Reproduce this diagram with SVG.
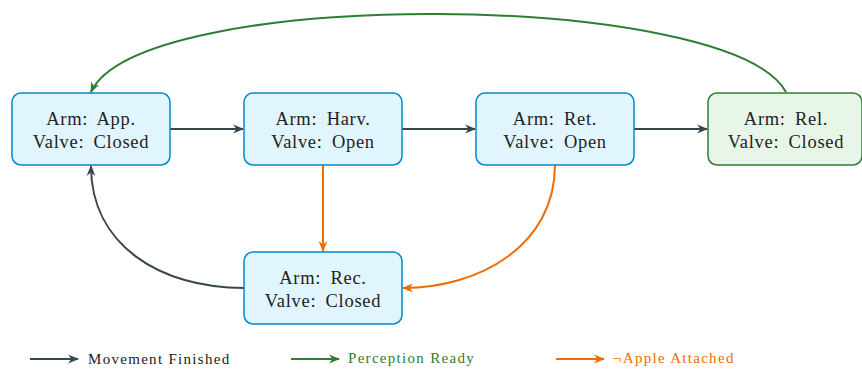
<svg xmlns="http://www.w3.org/2000/svg" width="862" height="373" viewBox="0 0 862 373">
<defs>
<marker id="ad" viewBox="0 0 10 10" refX="9" refY="5" markerWidth="11" markerHeight="11" markerUnits="userSpaceOnUse" orient="auto"><path d="M0,1 L10,5 L0,9 L3,5 Z" fill="#37474f"/></marker>
<marker id="ag" viewBox="0 0 10 10" refX="9" refY="5" markerWidth="11" markerHeight="11" markerUnits="userSpaceOnUse" orient="auto"><path d="M0,1 L10,5 L0,9 L3,5 Z" fill="#2e7d32"/></marker>
<marker id="ao" viewBox="0 0 10 10" refX="9" refY="5" markerWidth="11" markerHeight="11" markerUnits="userSpaceOnUse" orient="auto"><path d="M0,1 L10,5 L0,9 L3,5 Z" fill="#ef6c00"/></marker>
</defs>
<style>
.b{fill:#e1f5fe;stroke:#0288d1;stroke-width:1.5}
.g{fill:#e8f5e9;stroke:#2e7d32;stroke-width:1.5}
.t{font-family:"Liberation Serif",serif;font-size:18.5px;letter-spacing:0.7px;word-spacing:4px;fill:#222;text-anchor:middle}
.d{fill:none;stroke:#37474f;stroke-width:2;marker-end:url(#ad)}
.gr{fill:none;stroke:#2e7d32;stroke-width:2;marker-end:url(#ag)}
.o{fill:none;stroke:#ef6c00;stroke-width:2;marker-end:url(#ao)}
.l{font-family:"Liberation Serif",serif;font-size:15px;letter-spacing:1.3px}
</style>
<g id="connectors">
<path class="d" d="M170,129 L243,129"/>
<path class="d" d="M402,129 L475,129"/>
<path class="d" d="M634,129 L707,129"/>
<path class="o" d="M323,165 L323,251"/>
<path class="o" d="M555,165 C555,245 480,288 403,288"/>
<path class="d" d="M244,288 C160,288 91,245 91,166"/>
<path class="gr" d="M786,92 C730,-10 140,-14 91,92"/>
</g>
<g id="app"><rect class="b" x="12" y="93" width="158" height="72" rx="9"/><text class="t" x="91" y="125">Arm: App.</text><text class="t" x="91" y="148">Valve: Closed</text></g>
<g id="harv"><rect class="b" x="244" y="93" width="158" height="72" rx="9"/><text class="t" x="323" y="125">Arm: Harv.</text><text class="t" x="323" y="148">Valve: Open</text></g>
<g id="ret"><rect class="b" x="476" y="93" width="158" height="72" rx="9"/><text class="t" x="555" y="125">Arm: Ret.</text><text class="t" x="555" y="148">Valve: Open</text></g>
<g id="rel"><rect class="g" x="708" y="93" width="154" height="72" rx="9"/><text class="t" x="786" y="125">Arm: Rel.</text><text class="t" x="786" y="148">Valve: Closed</text></g>
<g id="rec"><rect class="b" x="244" y="252" width="158" height="72" rx="9"/><text class="t" x="323" y="284">Arm: Rec.</text><text class="t" x="323" y="307">Valve: Closed</text></g>
<g id="legend">
<path class="d" d="M30,359 L78,359"/><text class="l" x="88" y="364" fill="#222">Movement Finished</text>
<path class="gr" d="M291,359 L339,359"/><text class="l" x="348" y="363" fill="#2e7d32">Perception Ready</text>
<path class="o" d="M556,359 L604,359"/><text class="l" x="613" y="363" fill="#ef6c00">¬Apple Attached</text>
</g>
</svg>
